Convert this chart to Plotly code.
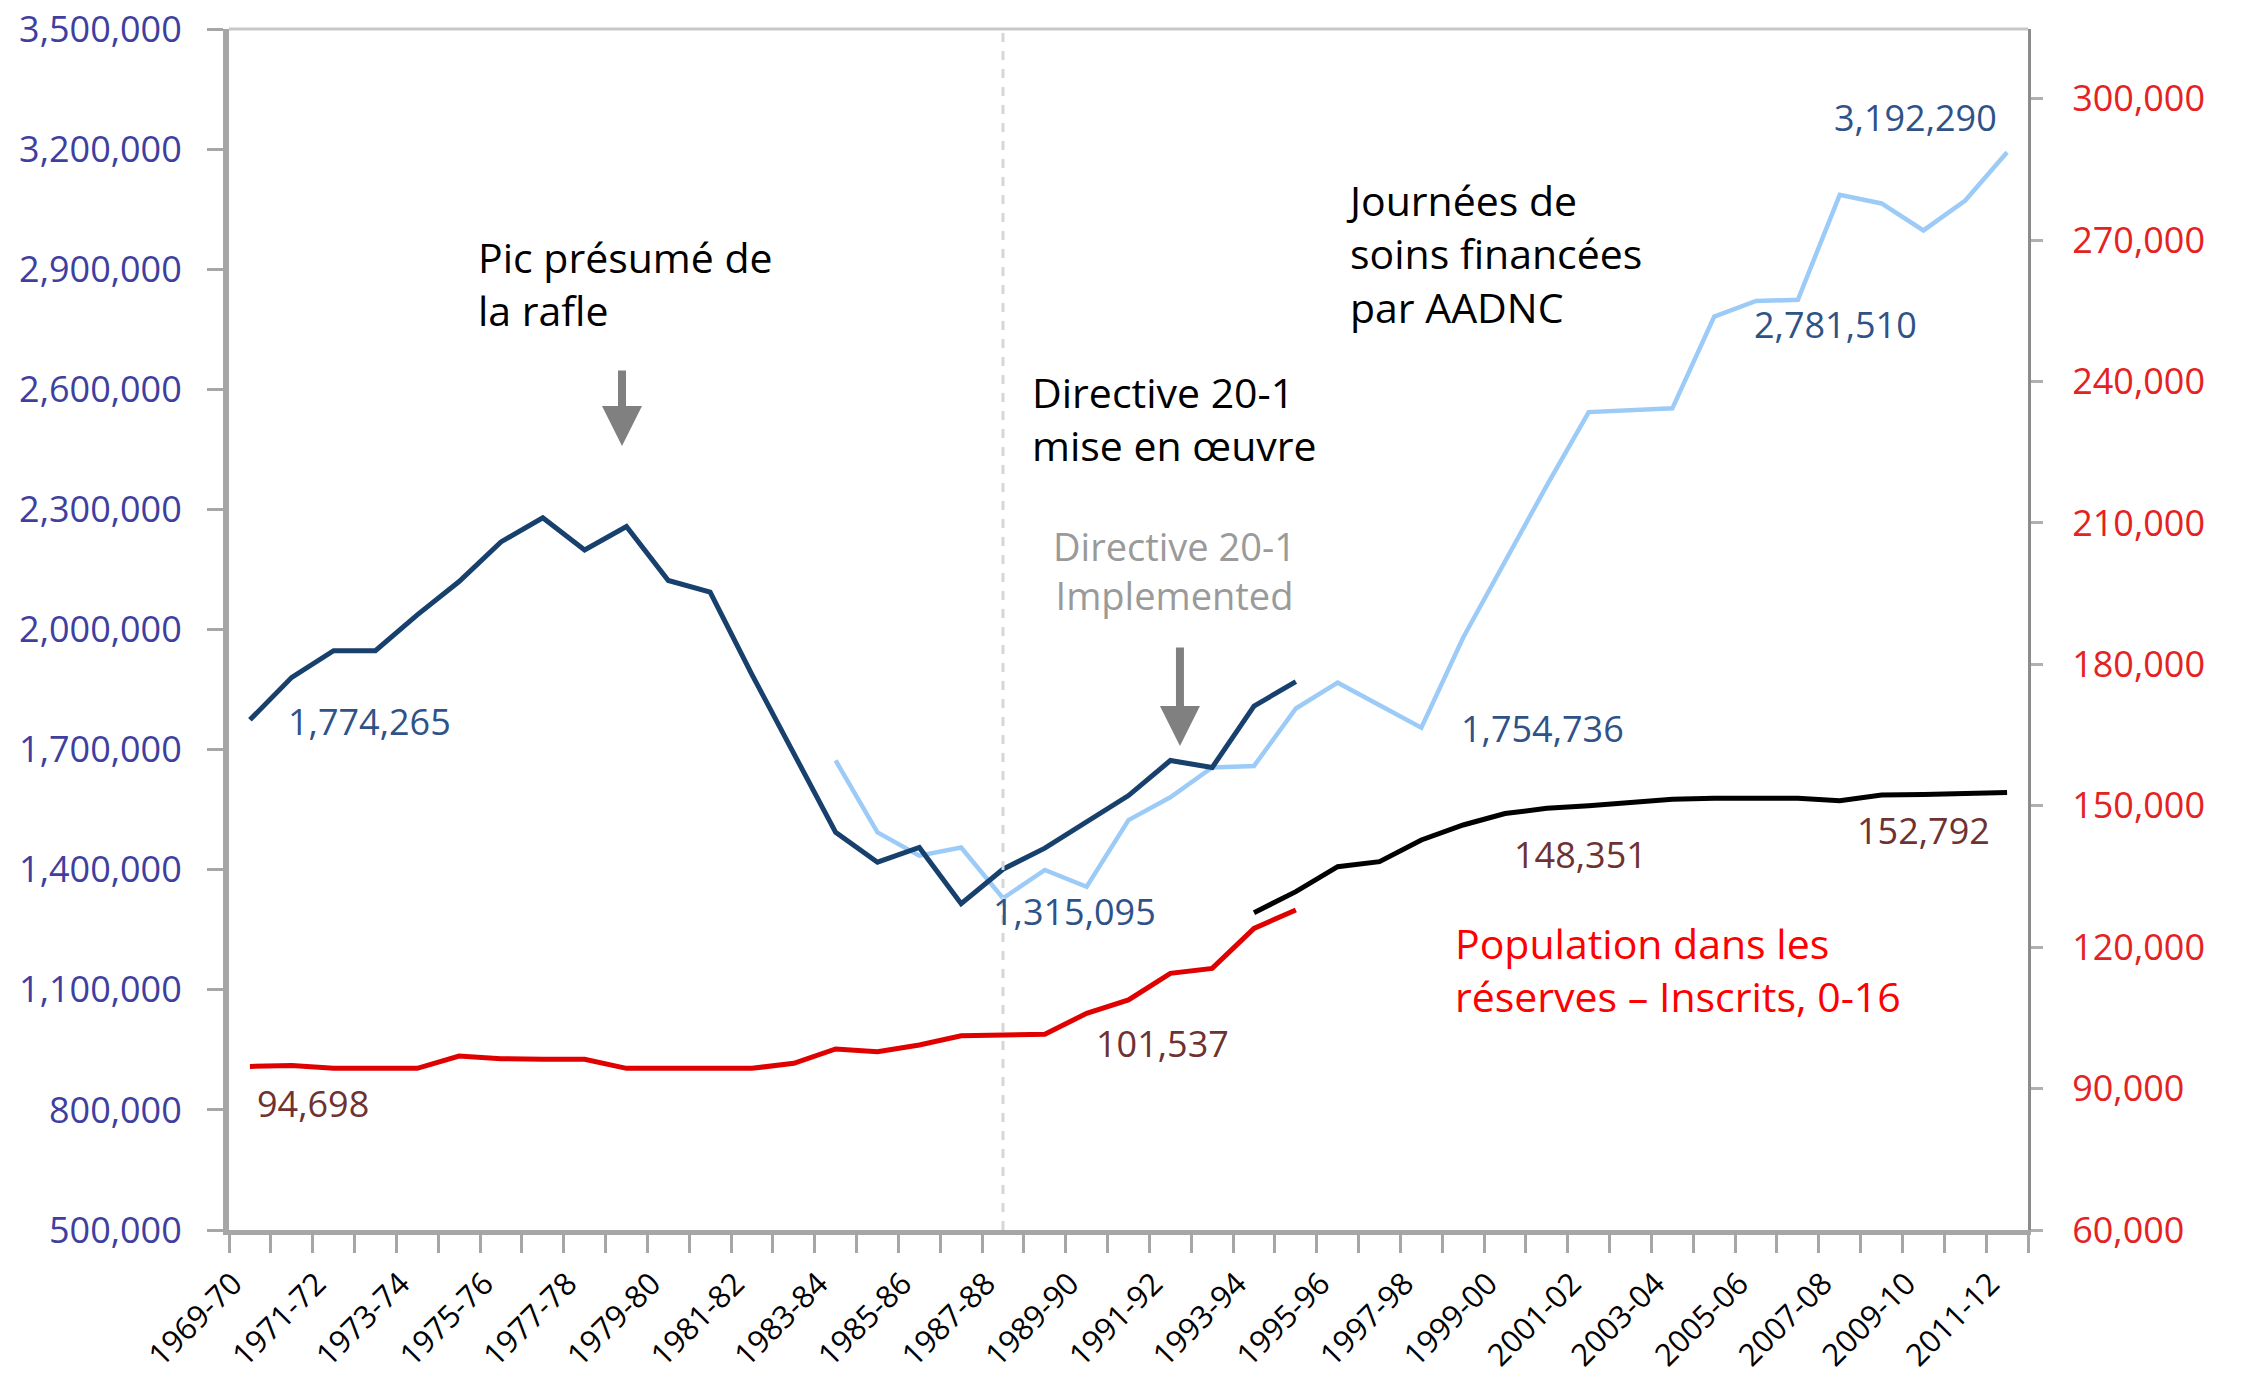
import plotly.graph_objects as go

years = ["1969-70", "1970-71", "1971-72", "1972-73", "1973-74", "1974-75", "1975-76",
         "1976-77", "1977-78", "1978-79", "1979-80", "1980-81", "1981-82", "1982-83",
         "1983-84", "1984-85", "1985-86", "1986-87", "1987-88", "1988-89", "1989-90",
         "1990-91", "1991-92", "1992-93", "1993-94", "1994-95", "1995-96", "1996-97",
         "1997-98", "1998-99", "1999-00", "2000-01", "2001-02", "2002-03", "2003-04",
         "2004-05", "2005-06", "2006-07", "2007-08", "2008-09", "2009-10", "2010-11",
         "2011-12"]

# Care days (left axis) - older series, 1969-70 .. 1994-95
care_days_old_start = "1969-70"
care_days_old = [1774265, 1880500, 1947000, 1947000, 2036500, 2119700, 2218800, 2279200,
                 2198600, 2257300, 2122400, 2093500, 1887500, 1690400, 1493200, 1418700,
                 1455500, 1315095, 1401200, 1453800, 1519500, 1585200, 1672800, 1655300,
                 1808700, 1870000]

# Care days funded by AANDC (left axis) - newer series, 1983-84 .. 2011-12
care_days_new_start = "1983-84"
care_days_new = [1672800, 1493200, 1435000, 1455500, 1328600, 1399400, 1357400, 1523900,
                 1580800, 1655300, 1659200, 1802600, 1867100, 1809700, 1754736, 1980000,
                 2170000, 2360000, 2543000, 2548200, 2552500, 2781510, 2820600, 2823400,
                 3085800, 3064300, 2996900, 3071500, 3192290]

# On-reserve population, registered, 0-16 (right axis)
pop_old_start = "1969-70"
pop_old = [94698, 94900, 94300, 94300, 94300, 96900, 96350, 96210, 96210, 94300, 94300,
           94300, 94300, 95360, 98400, 97840, 99250, 101200, 101400, 101537, 105970,
           108800, 114450, 115500, 124000, 127900]

pop_new_start = "1993-94"
pop_new = [127325, 131780, 137084, 138145, 142742, 145924, 148351, 149460, 150026, 150662,
           151370, 151582, 151582, 151582, 151087, 152300, 152400, 152500, 152792]

directive_year = "1987-88"

DARK = "#17406D"
LIGHT = "#9DCBF7"
RED = "#E00000"
BLUE_LBL = "#2F5288"
BROWN_LBL = "#6E3232"
FONT = "Open Sans"


def xs(start, vals):
    s = years.index(start)
    return list(range(s, s + len(vals)))


fig = go.Figure()
fig.add_trace(go.Scatter(x=xs(care_days_new_start, care_days_new), y=care_days_new,
                         mode="lines", line=dict(color=LIGHT, width=4.5), yaxis="y"))
fig.add_trace(go.Scatter(x=xs(care_days_old_start, care_days_old), y=care_days_old,
                         mode="lines", line=dict(color=DARK, width=5), yaxis="y"))
fig.add_trace(go.Scatter(x=xs(pop_old_start, pop_old), y=pop_old,
                         mode="lines", line=dict(color=RED, width=5), yaxis="y2"))
fig.add_trace(go.Scatter(x=xs(pop_new_start, pop_new), y=pop_new,
                         mode="lines", line=dict(color="#000000", width=5), yaxis="y2"))

# data labels (anchored on data points, shifted in pixels)
labels = [
    ("y", care_days_old_start, care_days_old, 0, "left", 36, -2, BLUE_LBL),
    ("y", care_days_old_start, care_days_old, 17, "left", 30, -8, BLUE_LBL),
    ("y", care_days_new_start, care_days_new, 14, "left", 38, -1, BLUE_LBL),
    ("y", care_days_new_start, care_days_new, 21, "left", 38, -8, BLUE_LBL),
    ("y", care_days_new_start, care_days_new, 28, "right", -8, 35, BLUE_LBL),
    ("y2", pop_old_start, pop_old, 0, "left", 5, -37, BROWN_LBL),
    ("y2", pop_old_start, pop_old, 19, "left", 49, -9, BROWN_LBL),
    ("y2", pop_new_start, pop_new, 6, "left", 7, -41, BROWN_LBL),
    ("y2", pop_new_start, pop_new, 18, "right", -15, -38, BROWN_LBL),
]
for yref, start, vals, k, anchor, dx, dy, col in labels:
    v = vals[k]
    fig.add_annotation(x=years.index(start) + k, y=v, xref="x", yref=yref,
                       text=f"{v:,}", showarrow=False, xanchor=anchor, yanchor="middle",
                       xshift=dx, yshift=dy, font=dict(family=FONT, size=36, color=col))

# text notes
notes = [
    ("Pic présumé de<br>la rafle", 0.1373, 0.7877, "left", "#000000", 41),
    ("Directive 20-1<br>mise en œuvre", 0.4453, 0.6753, "left", "#000000", 41),
    ("Journées de<br>soins financées<br>par AADNC", 0.6198, 0.8127, "left", "#000000", 41),
    ("Population dans les<br>réserves – Inscrits, 0-16", 0.6804, 0.2165, "left", "#FF0000", 41),
    ("Directive 20-1<br>Implemented", 0.5253, 0.5495, "center", "#9A9A9A", 38),
]
for txt, px, py, anc, col, sz in notes:
    fig.add_annotation(x=px, y=py, xref="paper", yref="paper", text=txt, showarrow=False,
                       xanchor=anc, yanchor="middle", align=anc,
                       font=dict(family=FONT, size=sz, color=col))

# arrows
for ax_x, ax_y, length in [(8.894, 2458300, 77), (22.23, 1709000, 100)]:
    fig.add_annotation(x=ax_x, y=ax_y, xref="x", yref="y", text="", showarrow=True,
                       arrowhead=2, arrowsize=1.0, arrowwidth=8, arrowcolor="#808080",
                       ax=0, ay=-length)

# dashed vertical line at directive year
di = years.index(directive_year)
fig.add_shape(type="line", xref="x", yref="paper", x0=di, x1=di, y0=0, y1=1,
              line=dict(color="#D6D6D6", width=3, dash="dash"))
# top border
fig.add_shape(type="line", xref="paper", yref="paper", x0=0, x1=1, y0=1, y1=1,
              line=dict(color="#C8C8C8", width=3))

label_idx = list(range(0, len(years), 2))
fig.update_layout(
    width=2242, height=1383,
    margin=dict(l=229, r=214, t=29, b=153),
    paper_bgcolor="white", plot_bgcolor="white",
    showlegend=False,
    xaxis=dict(
        range=[-0.5, len(years) - 0.5], tickmode="array",
        tickvals=[i - 0.4 for i in label_idx], ticktext=[years[i] for i in label_idx],
        tickangle=-45, ticks="", ticklabelstandoff=18, automargin=False,
        ticklabeloverflow="allow",
        tickfont=dict(family=FONT, size=31, color="#000000"),
        showgrid=False, zeroline=False,
        showline=True, linecolor="#A6A6A6", linewidth=5,
        minor=dict(tickmode="array", tickvals=[i - 0.5 for i in range(len(years) + 1)],
                   ticks="outside", ticklen=18, tickwidth=3, tickcolor="#A6A6A6"),
    ),
    yaxis=dict(
        range=[500000, 3500000], tick0=500000, dtick=300000, tickformat=",",
        tickfont=dict(family=FONT, size=36, color="#3F3F9F"),
        ticks="outside", ticklen=16, tickwidth=3, tickcolor="#A6A6A6",
        showgrid=False, zeroline=False, automargin=False, ticklabeloverflow="allow",
        showline=True, linecolor="#A6A6A6", linewidth=6, ticklabelstandoff=18,
    ),
    yaxis2=dict(
        range=[60000, 314800], tick0=60000, dtick=30000, tickformat=",",
        overlaying="y", side="right", automargin=False, ticklabeloverflow="allow",
        tickfont=dict(family=FONT, size=36, color="#E52222"),
        ticks="outside", ticklen=12, tickwidth=3, tickcolor="#B0B0B0",
        showgrid=False, zeroline=False,
        showline=True, linecolor="#8C8C8C", linewidth=3, ticklabelstandoff=22,
    ),
)

fig.write_html("out.html", post_script="document.body.style.margin='0px';",
               config={"displayModeBar": False})
